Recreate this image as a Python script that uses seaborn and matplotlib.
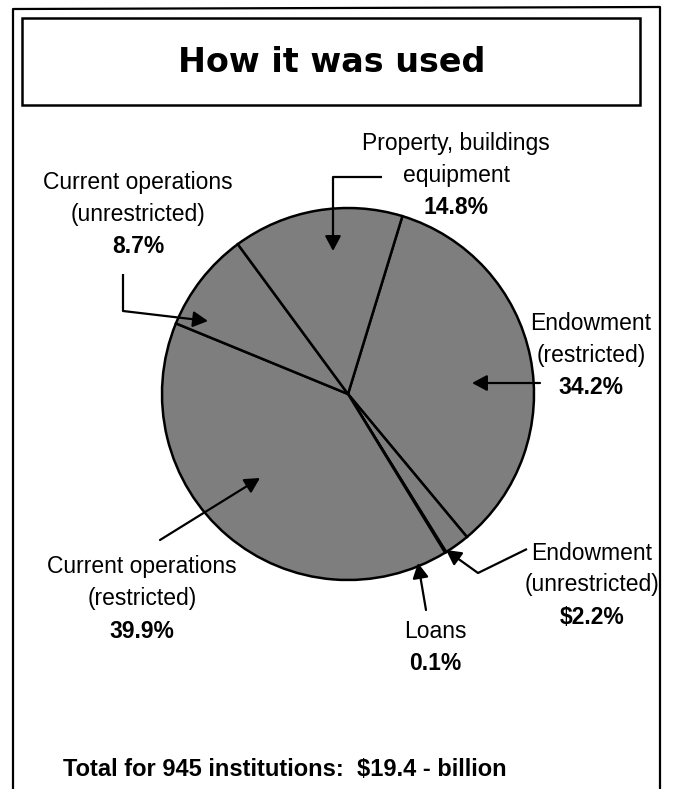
import matplotlib
matplotlib.use("Agg")
import matplotlib.pyplot as plt
import seaborn as sns
from matplotlib.patches import Rectangle

# slices, clockwise from the top-right cut
categories = ["Endowment (restricted)", "Endowment (unrestricted)", "Loans",
              "Current operations (restricted)", "Current operations (unrestricted)",
              "Property, buildings equipment"]
shares = [34.2, 2.2, 0.1, 39.9, 8.7, 14.8]
name_lines = [["Endowment", "(restricted)"],
              ["Endowment", "(unrestricted)"],
              ["Loans"],
              ["Current operations", "(restricted)"],
              ["Current operations", "(unrestricted)"],
              ["Property, buildings", "equipment"]]
pct_labels = ["34.2%", "$2.2%", "0.1%", "39.9%", "8.7%", "14.8%"]
title = "How it was used"
footer = "Total for 945 institutions:  $19.4 - billion"

sns.set_theme(style="white")
plt.rcParams["font.family"] = ["Liberation Sans Narrow", "Liberation Sans", "DejaVu Sans"]
plt.rcParams["text.color"] = "black"

W, H = 673, 789
fig = plt.figure(figsize=(W / 100, H / 100), dpi=100)
ax = fig.add_axes([0, 0, 1, 1])


def Y(y):
    # pixel row -> data y
    return H - y


ax.pie(shares, startangle=73, counterclock=False, center=(348, Y(394)), radius=186,
       colors=["#7e7e7e"] * len(shares),
       wedgeprops=dict(edgecolor="black", linewidth=1.8))
ax.set_xlim(0, W)
ax.set_ylim(0, H)
ax.set_aspect("auto")
ax.axis("off")

# frames
ax.plot([13, 13, 660, 660], [Y(789), Y(9), Y(7), Y(789)], color="black", lw=1.6, clip_on=False)
ax.add_patch(Rectangle((22, Y(105)), 618, 87, fill=False, edgecolor="black", lw=1.8))
ax.text(332, Y(62), title, ha="center", va="center", fontsize=24, fontweight="bold",
        family="DejaVu Sans")

# label blocks: (x centre, first line y)
spots = [(591, 323), (592, 553), (435, 632), (142, 567), (138, 182), (456, 143)]
step = 32
for (x, y0), lines, pct in zip(spots, name_lines, pct_labels):
    for i, s in enumerate(lines):
        ax.text(x, Y(y0 + i * step), s, ha="center", va="center", fontsize=16.5)
    ax.text(x, Y(y0 + len(lines) * step), pct, ha="center", va="center",
            fontsize=16.5, fontweight="bold")


def arrow(pts):
    xs = [p[0] for p in pts]
    ys = [Y(p[1]) for p in pts]
    if len(pts) > 2:
        ax.plot(xs[:-1], ys[:-1], color="black", lw=1.6, solid_capstyle="butt", zorder=5)
    ax.annotate("", xy=(xs[-1], ys[-1]), xytext=(xs[-2], ys[-2]), zorder=5,
                arrowprops=dict(arrowstyle="-|>,head_length=0.75,head_width=0.4",
                                color="black", lw=1.6, shrinkA=0, shrinkB=0,
                                mutation_scale=12))


arrow([(382, 177), (333, 177), (333, 251)])
arrow([(123, 274), (123, 311), (208, 321)])
arrow([(540, 383), (472, 383)])
arrow([(160, 540), (260, 478)])
arrow([(426, 610), (418, 563)])
arrow([(527, 549), (478, 573), (446, 550)])

ax.text(63, Y(770), footer, ha="left", va="center", fontsize=17, fontweight="bold")

fig.savefig("out.png", dpi=100)
